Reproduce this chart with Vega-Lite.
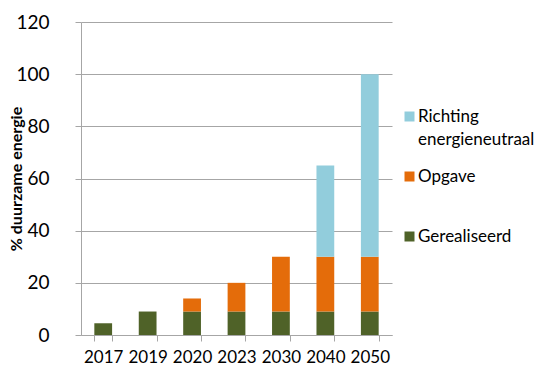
{
  "$schema": "https://vega.github.io/schema/vega-lite/v6.json",
  "width": 311,
  "height": 313,
  "autosize": {"type": "none"},
  "padding": {"left": 81, "top": 22, "right": 152, "bottom": 34},
  "background": "white",
  "config": {
    "view": {"stroke": null},
    "font": "Lato",
    "axis": {"labelFont": "Lato", "titleFont": "Lato", "labelColor": "#000000", "titleColor": "#000000"}
  },
  "data": {
    "values": [
      {"jaar": "2017", "serie": "Gerealiseerd", "waarde": 4.5},
      {"jaar": "2019", "serie": "Gerealiseerd", "waarde": 9},
      {"jaar": "2020", "serie": "Gerealiseerd", "waarde": 9},
      {"jaar": "2020", "serie": "Opgave", "waarde": 5},
      {"jaar": "2023", "serie": "Gerealiseerd", "waarde": 9},
      {"jaar": "2023", "serie": "Opgave", "waarde": 11},
      {"jaar": "2030", "serie": "Gerealiseerd", "waarde": 9},
      {"jaar": "2030", "serie": "Opgave", "waarde": 21},
      {"jaar": "2040", "serie": "Gerealiseerd", "waarde": 9},
      {"jaar": "2040", "serie": "Opgave", "waarde": 21},
      {"jaar": "2040", "serie": "Richting energieneutraal", "waarde": 35},
      {"jaar": "2050", "serie": "Gerealiseerd", "waarde": 9},
      {"jaar": "2050", "serie": "Opgave", "waarde": 21},
      {"jaar": "2050", "serie": "Richting energieneutraal", "waarde": 70}
    ]
  },
  "mark": {"type": "bar"},
  "encoding": {
    "x": {
      "field": "jaar",
      "type": "ordinal",
      "scale": {"paddingInner": 0.6, "paddingOuter": 0.3},
      "axis": {
        "title": null,
        "labelAngle": 0,
        "labelFontSize": 17,
        "labelPadding": 8,
        "tickBand": "extent",
        "tickSize": 6,
        "tickColor": "#a6a6a6",
        "domainColor": "#a6a6a6",
        "grid": false
      }
    },
    "y": {
      "field": "waarde",
      "type": "quantitative",
      "stack": "zero",
      "scale": {"domain": [0, 120], "nice": false},
      "axis": {
        "title": "% duurzame energie",
        "titleFontSize": 16,
        "titleFontWeight": "bold",
        "titlePadding": -9,
        "values": [0, 20, 40, 60, 80, 100, 120],
        "labelFontSize": 19,
        "labelPadding": 26,
        "tickSize": 6,
        "tickColor": "#a6a6a6",
        "domainColor": "#a6a6a6",
        "gridColor": "#a6a6a6",
        "grid": true
      }
    },
    "color": {
      "field": "serie",
      "type": "nominal",
      "scale": {
        "domain": ["Richting energieneutraal", "Opgave", "Gerealiseerd"],
        "range": ["#92cddc", "#e46c0a", "#4f6228"]
      },
      "legend": {
        "title": null,
        "orient": "none",
        "legendX": 320,
        "legendY": 86,
        "padding": 0,
        "symbolType": "square",
        "symbolSize": 100,
        "symbolStrokeWidth": 0,
        "labelFontSize": 17,
        "labelFont": "Lato",
        "labelColor": "#000000",
        "labelOffset": 0,
        "labelLimit": 220,
        "labelBaseline": "alphabetic",
        "rowPadding": 19,
        "labelExpr": "datum.label == 'Richting energieneutraal' ? ['Richting', 'energieneutraal'] : [datum.label, '']",
        "encode": {"labels": {"update": {"dy": {"value": 5}, "lineHeight": {"value": 23}}}}
      }
    },
    "order": {"field": "serie", "sort": "ascending"}
  }
}
